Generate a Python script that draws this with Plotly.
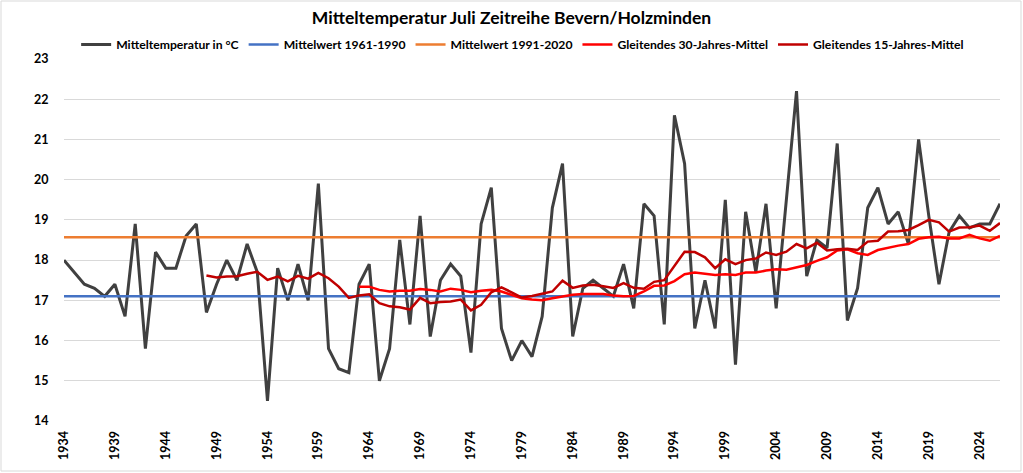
import plotly.graph_objects as go

# July mean temperature, Bevern/Holzminden
years = list(range(1934, 2027))
temp = [18.0, 17.7, 17.4, 17.3, 17.1, 17.4, 16.6, 18.9, 15.8, 18.2,
        17.8, 17.8, 18.6, 18.9, 16.7, 17.4, 18.0, 17.5, 18.4, 17.7,
        14.5, 17.8, 17.0, 17.9, 17.0, 19.9, 15.8, 15.3, 15.2, 17.4,
        17.9, 15.0, 15.8, 18.5, 16.4, 19.1, 16.1, 17.5, 17.9, 17.6,
        15.7, 18.9, 19.8, 16.3, 15.5, 16.0, 15.6, 16.6, 19.3, 20.4,
        16.1, 17.3, 17.5, 17.3, 17.1, 17.9, 16.8, 19.4, 19.1, 16.4,
        21.6, 20.4, 16.3, 17.5, 16.3, 19.5, 15.4, 19.2, 17.7, 19.4,
        16.8, 19.5, 22.2, 17.6, 18.5, 18.3, 20.9, 16.5, 17.3, 19.3,
        19.8, 18.9, 19.2, 18.4, 21.0, 19.1, 17.4, 18.7, 19.1, 18.8,
        18.9, 18.9, 19.4]

mean_6190 = 17.1
mean_9120 = 18.57

# moving averages
years_15 = years[14:]
ma15 = [17.62, 17.57, 17.59, 17.60, 17.66, 17.71, 17.51, 17.59, 17.47, 17.61,
        17.54, 17.68, 17.55, 17.34, 17.06, 17.12, 17.15, 16.93, 16.85, 16.83,
        16.77, 17.06, 16.93, 16.96, 16.97, 17.02, 16.75, 16.89, 17.20, 17.32,
        17.20, 17.07, 17.11, 17.16, 17.22, 17.49, 17.31, 17.37, 17.39, 17.35,
        17.31, 17.43, 17.31, 17.29, 17.46, 17.50, 17.84, 18.21, 18.20, 18.07,
        17.80, 18.02, 17.90, 18.00, 18.04, 18.19, 18.13, 18.21, 18.40, 18.29,
        18.43, 18.24, 18.27, 18.28, 18.25, 18.46, 18.48, 18.71, 18.72, 18.75,
        18.87, 19.00, 18.94, 18.71, 18.81, 18.82, 18.86, 18.73, 18.92]

years_30 = years[29:]
ma30 = [17.34, 17.34, 17.26, 17.22, 17.24, 17.24, 17.28, 17.26, 17.22, 17.29,
        17.26, 17.20, 17.24, 17.26, 17.22, 17.14, 17.05, 17.02, 17.00, 17.05,
        17.10, 17.14, 17.16, 17.16, 17.16, 17.12, 17.10, 17.11, 17.22, 17.36,
        17.37, 17.48, 17.65, 17.69, 17.66, 17.63, 17.65, 17.63, 17.69, 17.69,
        17.74, 17.77, 17.76, 17.82, 17.88, 17.98, 18.07, 18.24, 18.27, 18.17,
        18.13, 18.25, 18.31, 18.36, 18.40, 18.53, 18.57, 18.58, 18.54, 18.54,
        18.63, 18.54, 18.48, 18.60]

FONT = "Lato"

fig = go.Figure()
fig.add_trace(go.Scatter(x=years, y=temp, mode="lines", name="Mitteltemperatur in °C",
                         line=dict(color="#404040", width=3)))
fig.add_trace(go.Scatter(x=[years[0], years[-1]], y=[mean_6190, mean_6190], mode="lines",
                         name="Mittelwert 1961-1990", line=dict(color="#4472C4", width=2.5)))
fig.add_trace(go.Scatter(x=[years[0], years[-1]], y=[mean_9120, mean_9120], mode="lines",
                         name="Mittelwert 1991-2020", line=dict(color="#ED7D31", width=2.5)))
fig.add_trace(go.Scatter(x=years_30, y=ma30, mode="lines", name="Gleitendes 30-Jahres-Mittel",
                         line=dict(color="#FF0000", width=2.5)))
fig.add_trace(go.Scatter(x=years_15, y=ma15, mode="lines", name="Gleitendes 15-Jahres-Mittel",
                         line=dict(color="#C00000", width=2.5)))

fig.update_layout(
    width=1023, height=473,
    margin=dict(l=64, r=23, t=59, b=52, autoexpand=False),
    paper_bgcolor="white", plot_bgcolor="white",
    font=dict(family=FONT, size=12, color="#000000", weight="bold"),
    title=dict(text="Mitteltemperatur Juli Zeitreihe Bevern/Holzminden",
               x=0.5, xanchor="center", y=0.962, yanchor="middle",
               font=dict(family=FONT, size=17.5, color="#000000", weight="bold")),
    legend=dict(orientation="h", x=0.49, xanchor="center", y=1.0, yanchor="bottom",
                font=dict(family=FONT, size=12.2, color="#000000", weight="bold"),
                itemwidth=30, tracegroupgap=0),
    showlegend=True,
)

fig.update_xaxes(range=[1934, 2026], tickmode="array", tickvals=years[::5],
                 ticktext=[str(y) for y in years[::5]], tickangle=-90,
                 showgrid=False, showline=False, zeroline=False, automargin=False,
                 ticks="outside", ticklen=4, tickcolor="rgba(0,0,0,0)",
                 tickfont=dict(family=FONT, size=12.5, color="#000000", weight="bold"))
fig.update_yaxes(range=[14, 23], dtick=1, showgrid=True, gridcolor="#D9D9D9", gridwidth=1,
                 showline=False, zeroline=False, automargin=False,
                 ticks="outside", ticklen=12, tickcolor="rgba(0,0,0,0)",
                 tickfont=dict(family=FONT, size=12.5, color="#000000", weight="bold"))

# outer chart border
fig.add_shape(type="rect", xref="paper", yref="paper",
              x0=-63 / 936, x1=957 / 936, y0=-50 / 362, y1=420 / 362,
              line=dict(color="#D9D9D9", width=1), layer="below")

# page body margin would push the figure off by 8px
fig.write_html("out.html", config={"displayModeBar": False},
               post_script="document.body.style.margin='0';")
